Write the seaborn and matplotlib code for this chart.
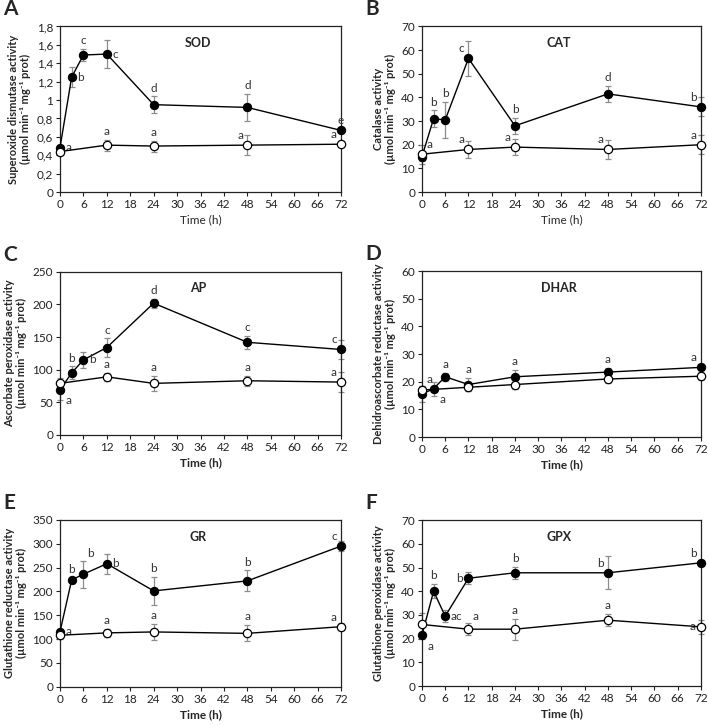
import numpy as np
import pandas as pd
import matplotlib
matplotlib.use("Agg")
import matplotlib.pyplot as plt
from matplotlib.ticker import FuncFormatter, MultipleLocator
import seaborn as sns

# time points (h)
t_stress = [0, 3, 6, 12, 24, 48, 72]
t_ctrl = [0, 12, 24, 48, 72]

# A - SOD
sod_stress = [0.48, 1.25, 1.49, 1.50, 0.95, 0.92, 0.67]
sod_stress_err = [0.02, 0.11, 0.07, 0.15, 0.09, 0.15, 0.02]
sod_ctrl = [0.44, 0.51, 0.50, 0.51, 0.52]
sod_ctrl_err = [0.02, 0.06, 0.06, 0.11, 0.02]
sod_stress_lbl = ["a", "b", "c", "c", "d", "d", "e"]
sod_ctrl_lbl = ["", "a", "a", "a", "a"]

# B - CAT
cat_stress = [15, 31, 30.5, 56.5, 28, 41.5, 36]
cat_stress_err = [2, 3.5, 7.5, 7.5, 3.5, 3.5, 4]
cat_ctrl = [16, 18, 19, 18, 20]
cat_ctrl_err = [4, 3.5, 3.5, 4, 4]
cat_stress_lbl = ["a", "b", "b", "c", "b", "d", "b"]
cat_ctrl_lbl = ["", "a", "a", "a", "a"]

# C - AP
ap_stress = [69, 95, 115, 134, 202, 142, 131]
ap_stress_err = [15, 10, 12, 14, 7, 10, 15]
ap_ctrl = [79, 89, 79, 83, 81]
ap_ctrl_err = [8, 6, 11, 8, 15]
ap_stress_lbl = ["a", "b", "b", "c", "d", "c", "c"]
ap_ctrl_lbl = ["", "a", "a", "a", "a"]

# D - DHAR
dhar_stress = [15.5, 17.5, 21.8, 19, 21.8, 23.5, 25.2]
dhar_stress_err = [3, 2.5, 1.5, 2.5, 2.5, 1.5, 1]
dhar_ctrl = [17, 18, 19, 21, 22]
dhar_ctrl_err = [1.5, 1.5, 1.5, 1.5, 1.5]
dhar_stress_lbl = ["a", "a", "a", "a", "a", "a", "a"]
dhar_ctrl_lbl = ["", "", "", "", ""]

# E - GR
gr_stress = [115, 224, 236, 258, 201, 222, 295]
gr_stress_err = [5, 5, 28, 21, 30, 22, 10]
gr_ctrl = [108, 113, 115, 112, 126]
gr_ctrl_err = [8, 8, 17, 17, 8]
gr_stress_lbl = ["a", "b", "b", "b", "b", "b", "c"]
gr_ctrl_lbl = ["", "a", "a", "a", "a"]

# F - GPX
gpx_stress = [21.5, 40, 29.5, 45.5, 47.8, 47.8, 52]
gpx_stress_err = [1.5, 3, 2.5, 2.5, 2.5, 7, 1]
gpx_ctrl = [26, 24, 24, 27.8, 25]
gpx_ctrl_err = [5, 2.5, 4.5, 2.5, 3]
gpx_stress_lbl = ["a", "b", "ac", "b", "b", "b", "b"]
gpx_ctrl_lbl = ["", "a", "a", "a", "a"]

sns.set_style("ticks")
plt.rcParams['font.family'] = ['Lato', 'DejaVu Sans']
plt.rcParams['font.size'] = 8

fig = plt.figure(figsize=(7.08, 7.26), dpi=100)

# where each letter goes relative to its point (offset in points, ha, va, anchor on error top?)
offsets = {
    "t": ((0, 2), "center", "bottom", True),
    "r": ((4, 0), "left", "center", False),
    "tr": ((3, 1), "left", "bottom", True),
    "br": ((4, -4), "left", "top", False),
    "l": ((-4, 0), "right", "center", False),
    "tl": ((-3, 3), "right", "bottom", False),
}

panels = [
    dict(tag="A", name="SOD", ylabel="Superoxide dismutase activity",
         s=sod_stress, se=sod_stress_err, c=sod_ctrl, ce=sod_ctrl_err,
         sl=sod_stress_lbl, cl=sod_ctrl_lbl,
         spos=["r", "r", "t", "r", "t", "t", "t"], cpos=["", "t", "t", "tl", "tl"],
         ymax=1.8, ystep=0.2, comma=True, boldx=False, rect=[0.0847, 0.7355, 0.397, 0.228]),
    dict(tag="B", name="CAT", ylabel="Catalase activity",
         s=cat_stress, se=cat_stress_err, c=cat_ctrl, ce=cat_ctrl_err,
         sl=cat_stress_lbl, cl=cat_ctrl_lbl,
         spos=["tr", "t", "t", "tl", "t", "t", "tl"], cpos=["", "tl", "tl", "tl", "tl"],
         ymax=70, ystep=10, comma=False, boldx=False, rect=[0.596, 0.7355, 0.394, 0.228]),
    dict(tag="C", name="AP", ylabel="Ascorbate peroxidase activity",
         s=ap_stress, se=ap_stress_err, c=ap_ctrl, ce=ap_ctrl_err,
         sl=ap_stress_lbl, cl=ap_ctrl_lbl,
         spos=["br", "t", "r", "t", "t", "t", "tl"], cpos=["", "t", "t", "t", "tl"],
         ymax=250, ystep=50, comma=False, boldx=True, rect=[0.0847, 0.401, 0.397, 0.2245]),
    dict(tag="D", name="DHAR", ylabel="Dehidroascorbate reductase activity",
         s=dhar_stress, se=dhar_stress_err, c=dhar_ctrl, ce=dhar_ctrl_err,
         sl=dhar_stress_lbl, cl=dhar_ctrl_lbl,
         spos=["tr", "br", "t", "t", "t", "t", "tl"], cpos=["", "", "", "", ""],
         ymax=60, ystep=10, comma=False, boldx=True, rect=[0.596, 0.398, 0.394, 0.2285]),
    dict(tag="E", name="GR", ylabel="Glutathione reductase activity",
         s=gr_stress, se=gr_stress_err, c=gr_ctrl, ce=gr_ctrl_err,
         sl=gr_stress_lbl, cl=gr_ctrl_lbl,
         spos=["r", "t", "tr", "r", "t", "t", "tl"], cpos=["", "t", "t", "t", "tl"],
         ymax=350, ystep=50, comma=False, boldx=True, rect=[0.0847, 0.054, 0.397, 0.23]),
    dict(tag="F", name="GPX", ylabel="Glutathione peroxidase activity",
         s=gpx_stress, se=gpx_stress_err, c=gpx_ctrl, ce=gpx_ctrl_err,
         sl=gpx_stress_lbl, cl=gpx_ctrl_lbl,
         spos=["br", "t", "r", "l", "t", "tl", "tl"], cpos=["", "tr", "t", "t", "l"],
         ymax=70, ystep=10, comma=False, boldx=True, rect=[0.596, 0.055, 0.394, 0.2285]),
]

unit = "(\u00b5mol min\u207b\u00b9 mg\u207b\u00b9 prot)"


def put_letters(ax, xs, ys, errs, labels, pos):
    for x, y, e, lab, p in zip(xs, ys, errs, labels, pos):
        if not lab:
            continue
        off, ha, va, on_err = offsets[p]
        yy = y + e if on_err else y
        ax.annotate(lab, (x, yy), xytext=off, textcoords="offset points",
                    ha=ha, va=va, fontsize=8.5, color="#333333", annotation_clip=False)


for p in panels:
    ax = fig.add_axes(p["rect"])
    # error bars first so they sit behind the markers
    for xs, ys, es in [(t_stress, p["s"], p["se"]), (t_ctrl, p["c"], p["ce"])]:
        eb = ax.errorbar(xs, ys, yerr=es, fmt="none", ecolor="#8c8c8c",
                         elinewidth=0.9, capsize=2.2, capthick=0.9, zorder=1)
        for art in eb.get_children():
            art.set_clip_on(False)
    sns.lineplot(x=t_stress, y=p["s"], ax=ax, color="black", lw=1, marker="o",
                 markersize=6, markerfacecolor="black", markeredgecolor="black",
                 zorder=3, clip_on=False)
    # control series drawn on top, as in the original
    sns.lineplot(x=t_ctrl, y=p["c"], ax=ax, color="black", lw=1, marker="o",
                 markersize=6, markerfacecolor="white", markeredgecolor="black",
                 markeredgewidth=0.9, zorder=4, clip_on=False)
    put_letters(ax, t_stress, p["s"], p["se"], p["sl"], p["spos"])
    put_letters(ax, t_ctrl, p["c"], p["ce"], p["cl"], p["cpos"])

    ax.set_xlim(0, 72)
    ax.set_ylim(0, p["ymax"])
    ax.xaxis.set_major_locator(MultipleLocator(6))
    ax.yaxis.set_major_locator(MultipleLocator(p["ystep"]))
    if p["comma"]:
        ax.yaxis.set_major_formatter(FuncFormatter(lambda v, _: f"{v:g}".replace(".", ",")))
    for s in ax.spines.values():
        s.set_visible(True)
        s.set_linewidth(0.9)
        s.set_color("#222222")
    ax.tick_params(direction="out", length=3, width=0.8, labelsize=8.5,
                   colors="#222222", pad=2)
    ax.set_xlabel("Time (h)", fontsize=8.5, fontweight="bold" if p["boldx"] else "normal",
                  labelpad=3)
    ax.set_ylabel(p["ylabel"] + "\n" + unit, fontsize=8, fontweight="bold",
                  labelpad=4, linespacing=1.1)
    ax.text(0.49, 0.9, p["name"], transform=ax.transAxes, ha="center", va="center",
            fontsize=9, fontweight="bold")
    fig.text(p["rect"][0] - 0.08, p["rect"][1] + p["rect"][3] + 0.01, p["tag"],
             fontsize=15, fontweight="bold", ha="left", va="bottom")

fig.savefig("out.png", dpi=100)
